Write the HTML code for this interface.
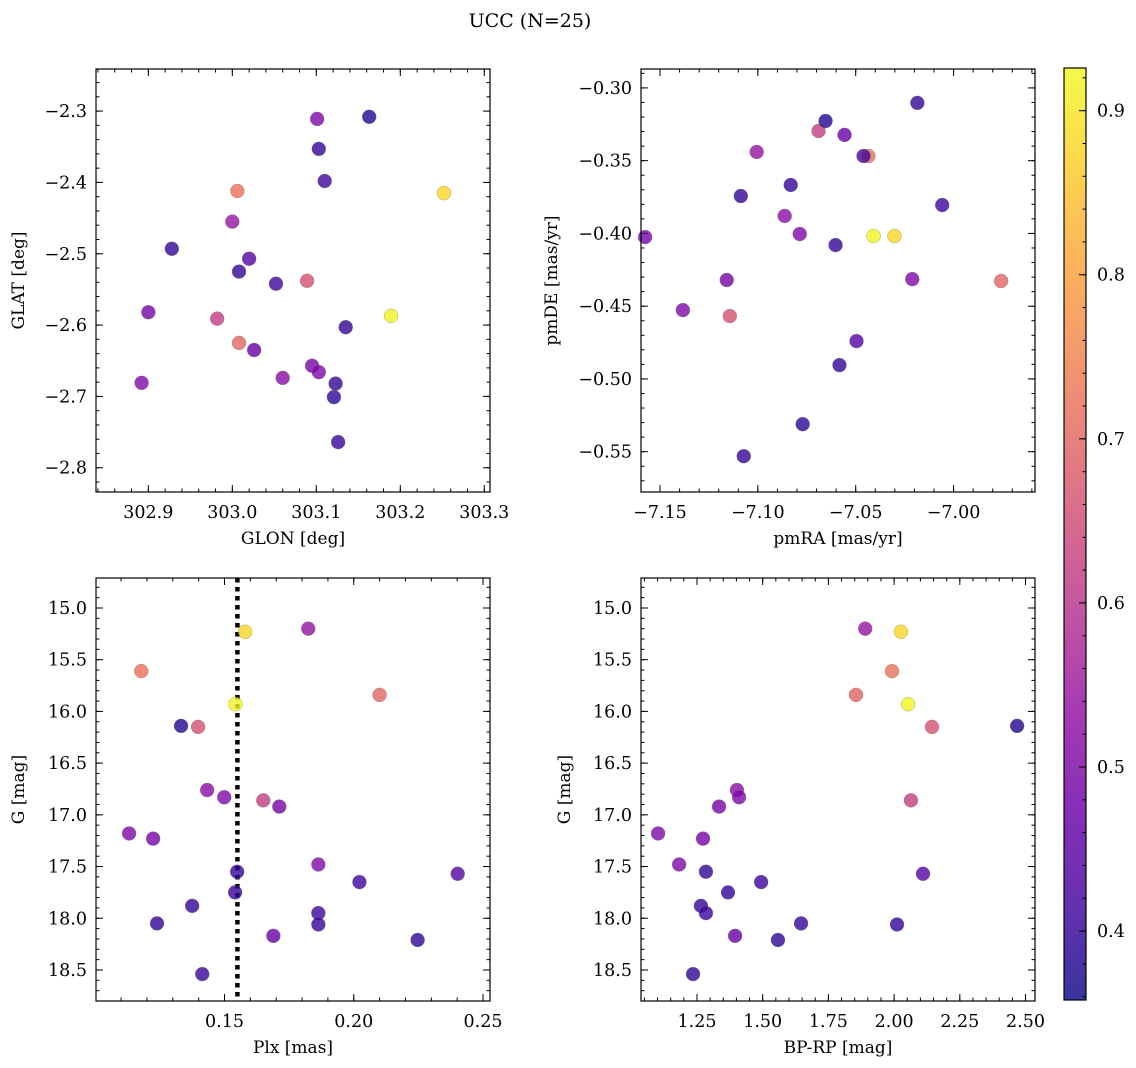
<!DOCTYPE html>
<html><head><meta charset="utf-8"><style>
html,body{margin:0;padding:0;background:#fff;}
svg{display:block;font-family:"DejaVu Serif","Liberation Serif",serif;}
</style></head><body>
<svg id="fig" width="1136" height="1068" viewBox="0 0 1136 1068" xmlns="http://www.w3.org/2000/svg">
<text x="530" y="27" text-anchor="middle" font-size="19">UCC (N=25)</text>
</svg>
<script>
const glon=[303.252,303.189,303.006,303.008,303.089,302.982,303.000,303.060,303.101,302.900,302.892,303.095,303.103,303.026,303.020,303.163,303.103,303.110,302.928,303.008,303.052,303.135,303.123,303.121,303.126];
const glat=[-2.415,-2.587,-2.412,-2.625,-2.538,-2.591,-2.455,-2.674,-2.311,-2.582,-2.681,-2.657,-2.666,-2.635,-2.507,-2.308,-2.353,-2.398,-2.493,-2.525,-2.542,-2.603,-2.682,-2.701,-2.764];
const pmra=[-7.0302,-7.0409,-7.0435,-6.9757,-7.1143,-7.0690,-7.1006,-7.0863,-7.0786,-7.1576,-7.1383,-7.1159,-7.0211,-7.0557,-7.0496,-7.0654,-7.0185,-7.0460,-7.0832,-7.1087,-7.0058,-7.0603,-7.0583,-7.0771,-7.1072];
const pmde=[-0.4018,-0.4018,-0.3468,-0.4327,-0.4568,-0.3296,-0.3440,-0.3880,-0.4004,-0.4025,-0.4527,-0.4320,-0.4314,-0.3323,-0.4740,-0.3227,-0.3103,-0.3468,-0.3667,-0.3743,-0.3805,-0.4080,-0.4905,-0.5311,-0.5531];
const plx=[0.158,0.1542,0.1178,0.2100,0.1398,0.1650,0.1824,0.1433,0.1499,0.1712,0.1131,0.1224,0.1863,0.1689,0.2402,0.1332,0.1549,0.2022,0.1541,0.1375,0.1863,0.1239,0.1863,0.2247,0.1414];
const gmag=[15.23,15.93,15.61,15.84,16.15,16.86,15.20,16.76,16.83,16.92,17.18,17.23,17.48,18.17,17.57,16.14,17.55,17.65,17.75,17.88,17.95,18.05,18.06,18.21,18.54];
const bprp=[2.026,2.053,1.992,1.855,2.144,2.064,1.89,1.402,1.41,1.334,1.102,1.273,1.182,1.395,2.110,2.468,1.284,1.494,1.368,1.265,1.284,1.646,2.011,1.558,1.235];
const cval=[0.88,0.92,0.72,0.70,0.66,0.62,0.54,0.52,0.50,0.49,0.50,0.49,0.50,0.47,0.44,0.38,0.40,0.41,0.40,0.40,0.41,0.40,0.40,0.39,0.40];
const plxLine=0.155;
const cbTicks=[0.4,0.5,0.6,0.7,0.8,0.9];

const NS="http://www.w3.org/2000/svg";
const svg=document.getElementById('fig');
function mk(tag,attrs,parent){const e=document.createElementNS(NS,tag);for(const k in attrs)e.setAttribute(k,attrs[k]);(parent||svg).appendChild(e);return e;}
const stops=[[13,8,135],[65,4,157],[106,0,168],[143,13,164],[177,42,144],[204,71,120],[225,100,98],[242,132,75],[252,166,54],[252,206,37],[240,249,33]];
function plasma(t){t=Math.max(0,Math.min(1,t));const f=t*10,i=Math.min(9,Math.floor(f)),r=f-i;const a=stops[i],b=stops[i+1];return 'rgb('+a.map((v,k)=>Math.round(v+(b[k]-v)*r)).join(',')+')';}
const vmin=0.358,vmax=0.926;
function col(v){return plasma((v-vmin)/(vmax-vmin));}
function fmt(v,d){const s=Math.abs(v).toFixed(d);return (v<-1e-9?'\u2212':'')+s;}

function panel(o){
  const g=mk('g',{});
  
  
  const sx=v=>o.x0+(v-o.xmin)/(o.xmax-o.xmin)*(o.x1-o.x0);
  const sy=v=>o.y0+(v-o.ymax)/(o.ymin-o.ymax)*(o.y1-o.y0);
  function ticks(lo,hi,step,len,axis,major){
    const n0=Math.ceil(lo/step-1e-6),n1=Math.floor(hi/step+1e-6);
    for(let n=n0;n<=n1;n++){const v=n*step;
      if(axis==='x'){const x=sx(v);
        const t1=mk('line',{x1:x,x2:x,y1:o.y1,y2:o.y1-len,stroke:'#000','stroke-width':1},g);
        
        mk('line',{x1:x,x2:x,y1:o.y0,y2:o.y0+len,stroke:'#000','stroke-width':1},g);
        if(major){const t=mk('text',{x:x,y:o.y1+26,'text-anchor':'middle','font-size':17.5},g);t.textContent=fmt(v,o.xd);
          }
      } else {const y=sy(v);
        const t1=mk('line',{x1:o.x0,x2:o.x0+len,y1:y,y2:y,stroke:'#000','stroke-width':1},g);
        
        mk('line',{x1:o.x1,x2:o.x1-len,y1:y,y2:y,stroke:'#000','stroke-width':1},g);
        if(major){const t=mk('text',{x:o.x0-9,y:y+6,'text-anchor':'end','font-size':17.5},g);t.textContent=fmt(v,o.yd);
          }
      }}
  }
  ticks(o.xmin,o.xmax,o.xminor,3.5,'x',false);
  ticks(o.xmin,o.xmax,o.xmajor,7,'x',true);
  ticks(Math.min(o.ymin,o.ymax),Math.max(o.ymin,o.ymax),o.yminor,3.5,'y',false);
  ticks(Math.min(o.ymin,o.ymax),Math.max(o.ymin,o.ymax),o.ymajor,7,'y',true);
  if(o.vline!==undefined){const x=sx(o.vline);
    const l=mk('line',{x1:x,x2:x,y1:o.y0,y2:o.y1,stroke:'#000','stroke-width':4.5,'stroke-dasharray':'4.5 4.5'},g);
    }
  for(let i=0;i<o.xs.length;i++){
    const c=mk('circle',{cx:sx(o.xs[i]),cy:sy(o.ys[i]),r:7,fill:col(cval[i]),'fill-opacity':0.8,stroke:'#777','stroke-width':0.5,'stroke-opacity':0.6},g);
    
    
  }
  const fr=mk('rect',{x:o.x0,y:o.y0,width:o.x1-o.x0,height:o.y1-o.y0,fill:'none',stroke:'#000','stroke-width':1.2},g);
  
  const xl=mk('text',{x:(o.x0+o.x1)/2,y:o.y1+52,'text-anchor':'middle','font-size':17},g);xl.textContent=o.xlabel;
  
  const yx=o.ylx, yy=(o.y0+o.y1)/2;
  const yl=mk('text',{x:yx,y:yy,'text-anchor':'middle','font-size':17,transform:'rotate(-90 '+yx+' '+yy+')'},g);yl.textContent=o.ylabel;
  
}

panel({name:'glon-glat-panel',x0:96,x1:490,y0:69,y1:492,xmin:302.8377,xmax:303.3068,ymin:-2.834,ymax:-2.241,
  xmajor:0.1,xminor:0.02,ymajor:0.1,yminor:0.02,xd:1,yd:1,xs:glon,ys:glat,xlabel:'GLON [deg]',ylabel:'GLAT [deg]',ylx:24});
panel({name:'proper-motion-panel',x0:641,x1:1035,y0:69,y1:492,xmin:-7.1597,xmax:-6.9584,ymin:-0.5777,ymax:-0.287,
  xmajor:0.05,xminor:0.01,ymajor:0.05,yminor:0.01,xd:2,yd:2,xs:pmra,ys:pmde,xlabel:'pmRA [mas/yr]',ylabel:'pmDE [mas/yr]',ylx:557});
panel({name:'plx-g-panel',x0:96,x1:490,y0:578,y1:1001,xmin:0.1003,xmax:0.2527,ymin:18.8,ymax:14.71,
  xmajor:0.05,xminor:0.01,ymajor:0.5,yminor:0.1,xd:2,yd:1,xs:plx,ys:gmag,xlabel:'Plx [mas]',ylabel:'G [mag]',ylx:24,vline:plxLine});
panel({name:'cmd-panel',x0:641,x1:1035,y0:578,y1:1001,xmin:1.037,xmax:2.536,ymin:18.8,ymax:14.71,
  xmajor:0.25,xminor:0.05,ymajor:0.5,yminor:0.1,xd:2,yd:1,xs:bprp,ys:gmag,xlabel:'BP-RP [mag]',ylabel:'G [mag]',ylx:570});

const cb=mk('g',{});


const defs=mk('defs',{},cb);
const lg=mk('linearGradient',{id:'cbg',x1:0,y1:1,x2:0,y2:0},defs);
for(let i=0;i<=20;i++){mk('stop',{offset:(i/20),'stop-color':plasma(i/20),'stop-opacity':0.82},lg);}
const cbx0=1064,cbx1=1086,cby0=68,cby1=1000;
mk('rect',{x:cbx0,y:cby0,width:cbx1-cbx0,height:cby1-cby0,fill:'url(#cbg)',stroke:'#000','stroke-width':1.2},cb);
const cy=v=>cby1-(v-vmin)/(vmax-vmin)*(cby1-cby0);
for(let n=Math.ceil(vmin/0.02);n*0.02<=vmax;n++){const y=cy(n*0.02);mk('line',{x1:cbx1,x2:cbx1-3.5,y1:y,y2:y,stroke:'#000'},cb);}
cbTicks.forEach(v=>{const y=cy(v);mk('line',{x1:cbx1,x2:cbx1-7,y1:y,y2:y,stroke:'#000'},cb);
  const t=mk('text',{x:1097,y:y+6,'font-size':17.5},cb);t.textContent=v.toFixed(1);
  
  });
</script>
</body></html>
